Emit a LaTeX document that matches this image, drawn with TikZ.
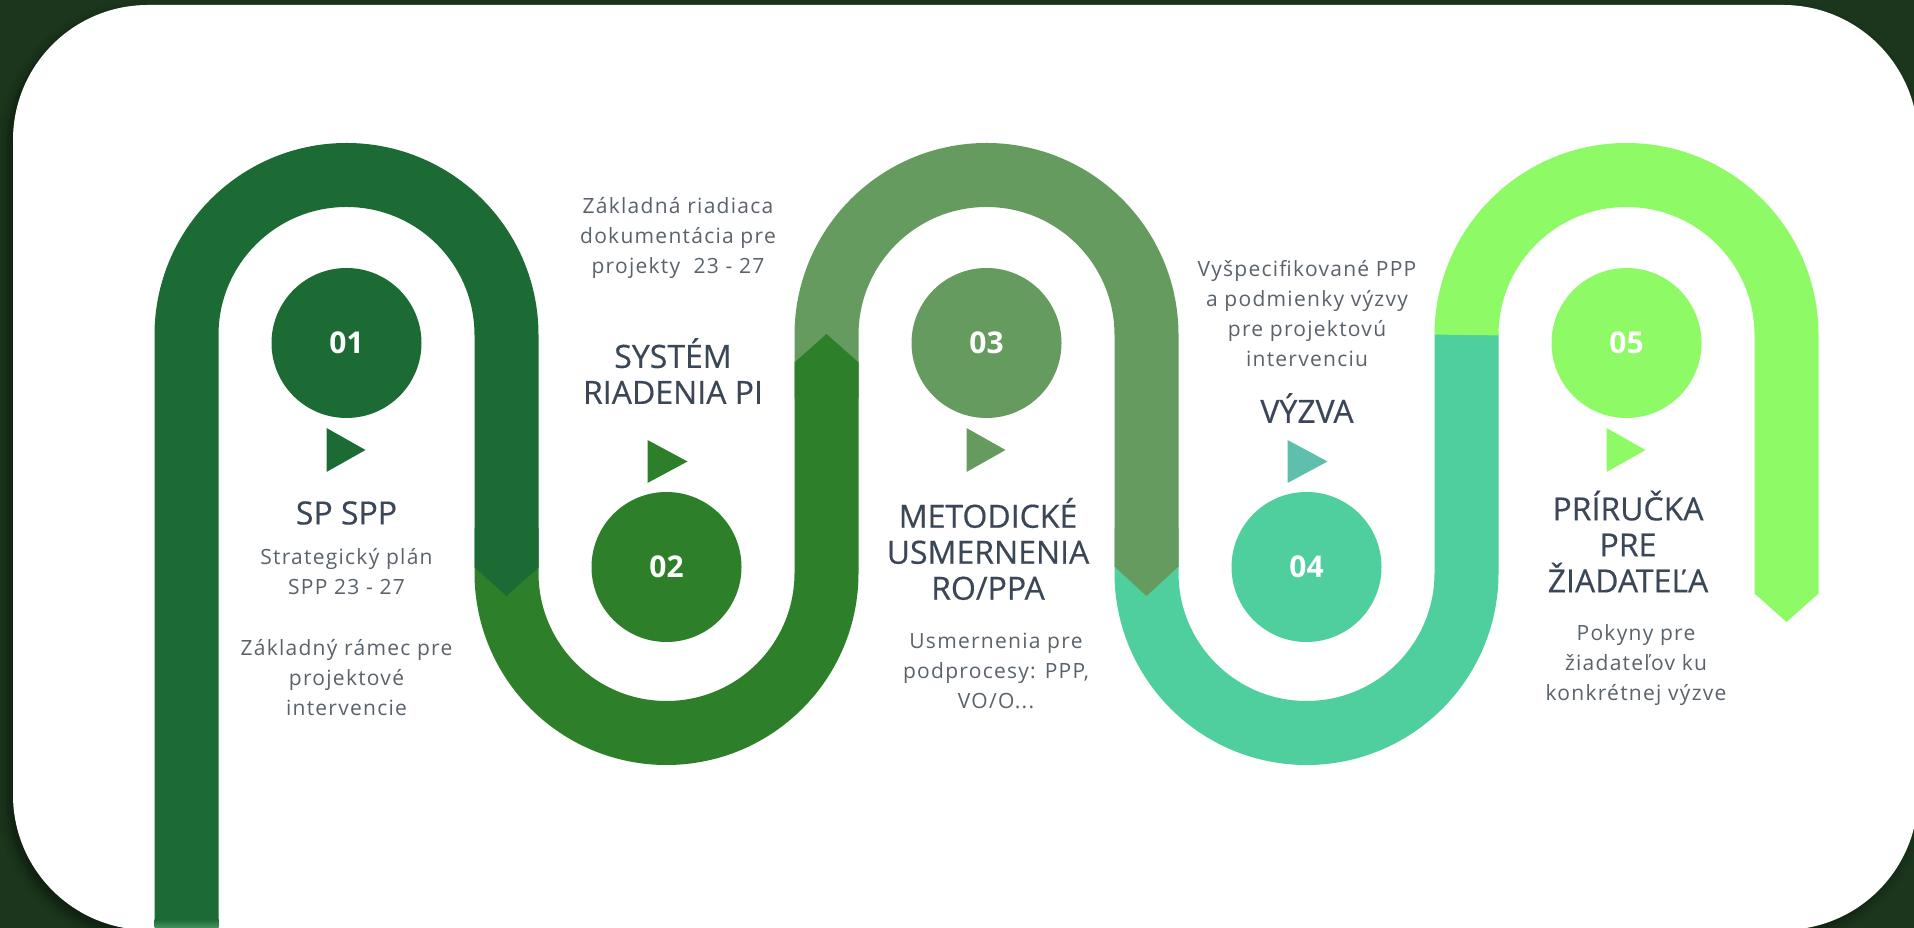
\documentclass[tikz,border=0pt]{standalone}
\usepackage{fontspec}
\usetikzlibrary{shadows.blur}
\setmainfont{Open Sans}
\newfontfamily\descfont[LetterSpace=6]{Open Sans}
\newfontfamily\titlefont[FakeBold=0.4]{Open Sans}
\definecolor{bgc}{HTML}{1B361C}
\definecolor{cA}{HTML}{1D6B34}
\definecolor{cAl}{HTML}{4C9A66}
\definecolor{cB}{HTML}{2E7F2A}
\definecolor{cC}{HTML}{659B5E}
\definecolor{cD}{HTML}{4ECF9D}
\definecolor{cE}{HTML}{8EFB66}
\definecolor{cT}{HTML}{5DBFAC}
\definecolor{titlec}{HTML}{3B4757}
\definecolor{descc}{HTML}{5A626B}
\begin{document}
\begin{tikzpicture}[x=1pt,y=1pt,
  ribbon/.style={line width=64pt, line cap=butt},
  num/.style={circle, minimum size=150pt, inner sep=0pt, text=white,
    font=\fontsize{30}{30}\selectfont\bfseries},
  title/.style={align=center, text=titlec, font=\titlefont\fontsize{32}{36}\selectfont},
  desc/.style={align=center, text=descc, font=\descfont\fontsize{21}{30}\selectfont},
]
\useasboundingbox (0,0) rectangle (1914,928);
\fill[bgc] (0,0) rectangle (1914,928);
\fill[white, rounded corners=135pt,
  blur shadow={shadow xshift=-5pt, shadow yshift=-6pt, shadow opacity=45, shadow blur radius=10pt}]
  (13,-2) rectangle (1918,923);

% ribbons (back to front)
\draw[ribbon, cD] (1146.5,400) -- (1146.5,355) arc[start angle=180, end angle=360, radius=160] -- (1466.5,594);
\draw[ribbon, cC] (826.5,530) -- (826.5,593) arc[start angle=180, end angle=0, radius=160] -- (1146.5,361);
\fill[cC] (1114.5,361.5) -- (1146.5,332) -- (1178.5,361.5) -- cycle;
\draw[ribbon, cB] (506.5,400) -- (506.5,355) arc[start angle=180, end angle=360, radius=160] -- (826.5,566);
\fill[cB] (794.5,565.5) -- (826.5,594) -- (858.5,565.5) -- cycle;
\draw[ribbon, cA] (186.5,8) -- (186.5,593) arc[start angle=180, end angle=0, radius=160] -- (506.5,360);
\fill[cA] (474.5,360.5) -- (506.5,332) -- (538.5,360.5) -- cycle;
\shade[top color=cA, bottom color=cAl] (154.5,-1) rectangle (218.5,8.5);
\draw[ribbon, cE] (1466.5,593) arc[start angle=180, end angle=0, radius=160] -- (1786.5,334);
\fill[cE] (1754.5,334.5) -- (1786.5,306) -- (1818.5,334.5) -- cycle;

% number circles
\node[num, fill=cA] (n1) at (346.5,585) {01};
\node[num, fill=cB] (n2) at (666.5,361) {02};
\node[num, fill=cC] (n3) at (986.5,585) {03};
\node[num, fill=cD] (n4) at (1306.5,361) {04};
\node[num, fill=cE] (n5) at (1626.5,585) {05};

% play triangles
\fill[cA] (326.5,500) -- (326.5,456) -- (365.5,478) -- cycle;
\fill[cB] (647.5,488) -- (647.5,445) -- (687.5,466.5) -- cycle;
\fill[cC] (966.5,500) -- (966.5,456) -- (1005.5,478) -- cycle;
\fill[cT] (1287.5,488) -- (1287.5,445) -- (1327.5,466.5) -- cycle;
\fill[cE] (1606.5,500) -- (1606.5,456) -- (1645.5,478) -- cycle;

% column 1
\node[title] (t1) at (346.5,415) {SP SPP};
\node[desc] (d1a) at (346.5,356) {Strategický plán\\SPP 23 - 27};
\node[desc] (d1b) at (346.5,250) {Základný rámec pre\\projektové\\intervencie};
% column 2
\node[desc] (d2) at (678,690) {Základná riadiaca\\dokumentácia pre\\projekty\ \ 23 - 27};
\node[title] (t2) at (673,557) {SYSTÉM\\RIADENIA PI};
% column 3
\node[title] (t3) at (988,379) {METODICKÉ\\USMERNENIA\\RO/PPA};
\node[desc] (d3) at (996,257) {Usmernenia pre\\podprocesy: PPP,\\VO/O...};
% column 4
\node[desc] (d4) at (1307,614.5) {Vyšpecifikované PPP\\a podmienky výzvy\\pre projektovú\\intervenciu};
\node[title] (t4) at (1307,520) {VÝZVA};
% column 5
\node[title] (t5) at (1628,386.5) {PRÍRUČKA\\PRE\\ŽIADATEĽA};
\node[desc] (d5) at (1636,263) {Pokyny pre\\žiadateľov ku\\konkrétnej výzve};
\end{tikzpicture}
\end{document}
